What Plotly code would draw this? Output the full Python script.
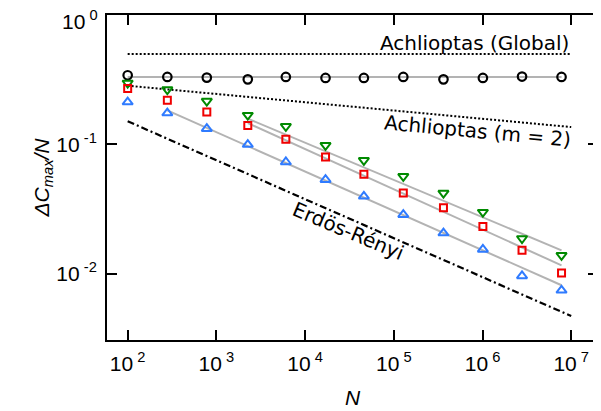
import plotly.graph_objects as go

# ---- data ----
N = [100, 280, 780, 2260, 6070, 17000, 46000, 128000, 363000, 1010000, 2790000, 7780000]
circles = [0.342, 0.332, 0.328, 0.318, 0.332, 0.326, 0.326, 0.332, 0.318, 0.326, 0.334, 0.332]
green_down = [0.298, 0.265, 0.216, 0.168, 0.1378, 0.0982, 0.0752, 0.0566, 0.042, 0.0299, 0.0187, 0.01386]
red_square = [0.270, 0.219, 0.178, 0.140, 0.1093, 0.0798, 0.0586, 0.042, 0.0324, 0.0232, 0.01514, 0.0101]
blue_up = [0.212, 0.1746, 0.132, 0.0995, 0.073, 0.0533, 0.0396, 0.0286, 0.0206, 0.0154, 0.0096, 0.00743]

# fitted (gray) lines: end points
fit_circ_x = [100, 7780000]
fit_circ_y = [0.332, 0.332]
fit_green_x = [2260, 7780000]
fit_green_y = [0.158, 0.01514]
fit_red_x = [2260, 7780000]
fit_red_y = [0.146, 0.01159]
fit_blue_x = [280, 7780000]
fit_blue_y = [0.183, 0.00813]

# reference curves
glob_x = [1e2, 1e7]
glob_y = [0.5, 0.5]
m2_x = [1e2, 1e7]
m2_y = [0.284, 0.136]
er_x = [1e2, 1e7]
er_y = [0.1507, 0.0047]

xtick_vals = [1e2, 1e3, 1e4, 1e5, 1e6, 1e7]
xtick_text = ["10<sup> 2</sup>", "10<sup> 3</sup>", "10<sup> 4</sup>", "10<sup> 5</sup>", "10<sup> 6</sup>", "10<sup> 7</sup>"]
ytick_vals = [1e-2, 1e-1, 1e0]
ytick_text = ["10<sup> -2</sup>", "10<sup> -1</sup>", ""]
ytop_label = "10<sup> 0</sup>"   # drawn slightly lowered, as in the reference

GRAY = "#b3b3b3"
fig = go.Figure()

for fx, fy in [(fit_circ_x, fit_circ_y), (fit_green_x, fit_green_y),
               (fit_red_x, fit_red_y), (fit_blue_x, fit_blue_y)]:
    fig.add_trace(go.Scatter(x=fx, y=fy, mode="lines",
                             line=dict(color=GRAY, width=2), hoverinfo="skip"))

fig.add_trace(go.Scatter(x=glob_x, y=glob_y, mode="lines",
                         line=dict(color="black", width=2, dash="2px,2px")))
fig.add_trace(go.Scatter(x=m2_x, y=m2_y, mode="lines",
                         line=dict(color="black", width=2, dash="2px,2px")))
fig.add_trace(go.Scatter(x=er_x, y=er_y, mode="lines",
                         line=dict(color="black", width=2.2, dash="7px,3px,2px,3px")))

fig.add_trace(go.Scatter(x=N, y=circles, mode="markers",
                         marker=dict(symbol="circle-open", size=8.5, color="black",
                                     line=dict(width=2.2))))
fig.add_trace(go.Scatter(x=N, y=green_down, mode="markers",
                         marker=dict(symbol="triangle-down-open", size=9, color="#008a00",
                                     line=dict(width=2))))
fig.add_trace(go.Scatter(x=N, y=red_square, mode="markers",
                         marker=dict(symbol="square-open", size=7, color="#f00000",
                                     line=dict(width=2))))
fig.add_trace(go.Scatter(x=N, y=blue_up, mode="markers",
                         marker=dict(symbol="triangle-up-open", size=9, color="#2f7bff",
                                     line=dict(width=2))))

TXT = dict(family="DejaVu Sans", size=20, color="black")
fig.add_annotation(x=7.0, y=-0.219, xref="x", yref="y", text="Achlioptas (Global)",
                   showarrow=False, xanchor="right", yanchor="middle", font=TXT)
fig.add_annotation(x=5.949, y=-0.899, xref="x", yref="y", text="Achlioptas (m = 2)",
                   showarrow=False, xanchor="center", yanchor="middle", textangle=5.4, font=TXT)
fig.add_annotation(x=4.484, y=-1.673, xref="x", yref="y", text="Erdös-Rényi",
                   showarrow=False, xanchor="center", yanchor="middle", textangle=22.8, font=TXT)

TICKFONT = dict(family="Liberation Sans", size=21, color="black")
fig.add_annotation(x=0, y=0, xref="paper", yref="y", text=ytop_label,
                   showarrow=False, xanchor="right", yanchor="middle",
                   xshift=-8, yshift=-5, borderpad=0, font=TICKFONT)

axis_common = dict(type="log", showgrid=False, zeroline=False, showline=True,
                   linecolor="black", linewidth=2, mirror="ticks", ticks="inside",
                   ticklen=10, tickwidth=2, tickcolor="black", automargin=False,
                   tickfont=TICKFONT)

fig.update_xaxes(range=[1.767, 7.302], tickvals=xtick_vals, ticktext=xtick_text,
                 ticklabelstandoff=4,
                 title=dict(text="<i>N</i>", font=dict(family="Liberation Sans", size=21, color="black"),
                            standoff=16),
                 **axis_common)
fig.update_yaxes(range=[-2.513, 0.0], tickvals=ytick_vals, ticktext=ytick_text,
                 ticklabelstandoff=4,
                 title=dict(text="<i>ΔC<sub>max</sub>/N</i>",
                            font=dict(family="Liberation Sans", size=21, color="black"),
                            standoff=0),
                 **axis_common)

# page body has an 8px margin, so the figure is shifted by (8, 8)
fig.update_layout(width=593, height=403, showlegend=False,
                  margin=dict(l=99, r=3, t=7, b=71),
                  plot_bgcolor="white", paper_bgcolor="white")

fig.write_html("out.html")
